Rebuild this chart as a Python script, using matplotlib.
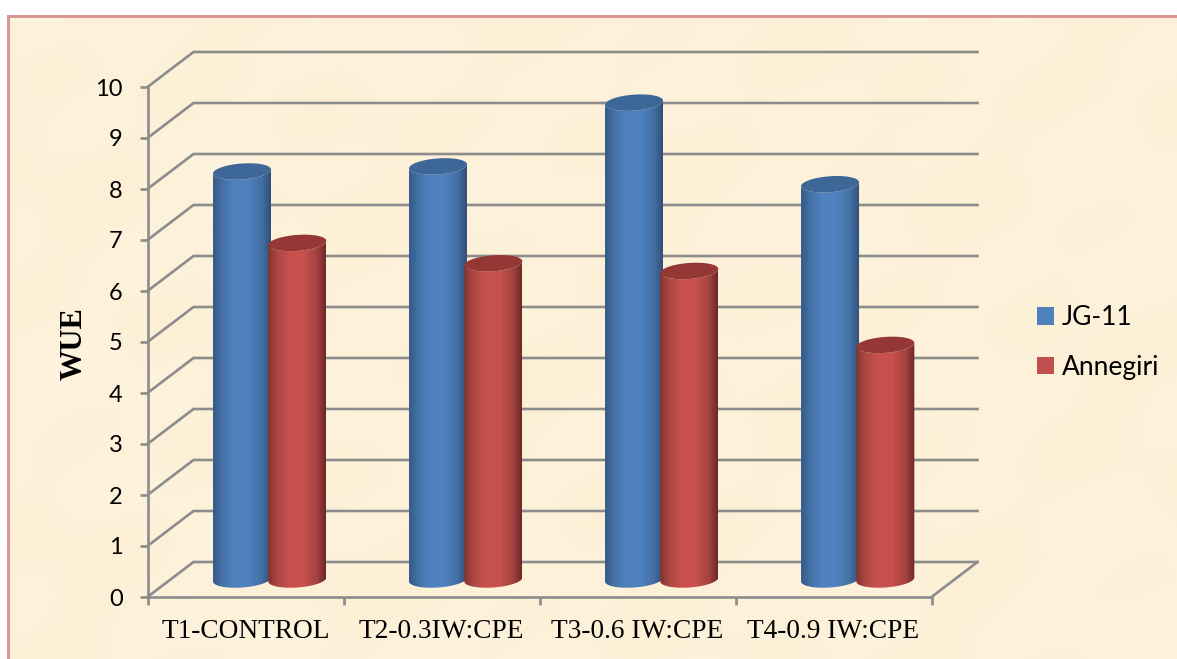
import numpy as np
import matplotlib
matplotlib.use('Agg')
import matplotlib.pyplot as plt
from matplotlib.colors import LinearSegmentedColormap
from matplotlib.patches import Patch, PathPatch, Rectangle
from matplotlib.path import Path

W, H = 1177, 659

categories = ['T1-CONTROL', 'T2-0.3IW:CPE', 'T3-0.6 IW:CPE', 'T4-0.9 IW:CPE']
jg11 = [8.0, 8.1, 9.35, 7.75]
annegiri = [6.6, 6.2, 6.05, 4.6]
y_ticks = [0, 1, 2, 3, 4, 5, 6, 7, 8, 9, 10]

GRID = '#8c8c8c'
LW = 1.9
# depth of the fake 3d box, in data units
DX = 46 / 196
DY = 35 / 51
BAR_W = 58 / 196
CAP_H = 8 / 51
CAP_TILT = 2 / 51

blue_grad = LinearSegmentedColormap.from_list('b', [
    (0, '#355b88'), (0.15, '#4470a6'), (0.35, '#4f81bd'), (0.6, '#5082c0'), (0.85, '#436fa3'), (1, '#2f5078')])
red_grad = LinearSegmentedColormap.from_list('r', [
    (0, '#843230'), (0.15, '#ab4744'), (0.35, '#c6504d'), (0.6, '#c9524f'), (0.85, '#a34341'), (1, '#6f2826')])


def background(fig):
    bg = fig.add_axes([0, 0, 1, 1], zorder=0)
    yy, xx = np.mgrid[0:H, 0:W]
    tex = (np.sin(xx / 47.) * np.cos(yy / 61.) + 0.7 * np.sin(xx / 23. + yy / 31.)
           + 0.6 * np.cos(xx / 131. - yy / 19.))
    img = np.zeros((H, W, 3))
    img[..., 0] = 253 + 0.5 * tex
    img[..., 1] = 241 + 0.8 * tex
    img[..., 2] = 217 + 1.6 * tex
    bg.imshow(np.clip(img, 0, 255).astype(np.uint8), extent=(0, W, H, 0), aspect='auto')
    bg.set_xlim(0, W)
    bg.set_ylim(H, 0)
    bg.axis('off')
    # white margin and pink frame on the top and left
    bg.add_patch(Rectangle((0, 0), W, 15, fc='white', ec='none'))
    bg.add_patch(Rectangle((0, 0), 7, H, fc='white', ec='none'))
    bg.add_patch(Rectangle((7, 15), W, 3, fc='#d99694', ec='none'))
    bg.add_patch(Rectangle((7, 15), 3, H, fc='#d99694', ec='none'))


def cap_xy(cx, cy):
    t = np.linspace(0, 2 * np.pi, 81)
    x = cx + BAR_W / 2 * np.cos(t)
    y = cy + CAP_H * np.sin(t) + CAP_TILT * np.cos(t)
    return x, y


def cylinder(ax, cx, value, cmap, cap_color):
    base = DY / 2
    top = base + value
    t = np.linspace(np.pi, 2 * np.pi, 41)
    x_low = cx + BAR_W / 2 * np.cos(t)
    y_low = base + CAP_H * np.sin(t) + CAP_TILT * np.cos(t)
    x_up = cx + BAR_W / 2 * np.cos(t[::-1])
    y_up = top + CAP_H * np.sin(t[::-1]) + CAP_TILT * np.cos(t[::-1])
    body = np.column_stack([np.r_[x_low, x_up], np.r_[y_low, y_up]])
    clip = PathPatch(Path(body), transform=ax.transData, fc='none', ec='none')
    ax.add_patch(clip)
    im = ax.imshow(np.linspace(0, 1, 100)[None, :], cmap=cmap, aspect='auto', zorder=3,
                   extent=(cx - BAR_W / 2, cx + BAR_W / 2, base - 1, top + 1))
    im.set_clip_path(clip)
    x, y = cap_xy(cx, top)
    ax.fill(x, y, color=cap_color, lw=0, zorder=3, clip_on=False)


def box(ax):
    # side wall and back wall gridlines
    for v in y_ticks:
        ax.plot([0, DX, 4 + DX], [v, v + DY, v + DY], color=GRID, lw=LW,
                clip_on=False, zorder=1, solid_joinstyle='miter')
    ax.plot([4, 4 + DX], [0, DY], color=GRID, lw=LW, clip_on=False, zorder=1)


def main():
    fig = plt.figure(figsize=(W / 100, H / 100), dpi=100)
    background(fig)

    ax = fig.add_axes([147.5 / W, (H - 597) / H, 784 / W, 510 / H], zorder=1)
    ax.patch.set_alpha(0)
    box(ax)
    for i in range(len(categories)):
        mid = i + 0.5 + DX / 2
        cylinder(ax, mid - 0.135, jg11[i], blue_grad, '#3d6797')
        cylinder(ax, mid + 0.147, annegiri[i], red_grad, '#953735')

    ax.set_xlim(0, 4)
    ax.set_ylim(0, 10)
    ax.set_yticks(y_ticks)
    ax.set_xticks(range(5))
    ax.set_xticklabels([])
    ax.set_xticks([i + 0.5 for i in range(4)], categories, minor=True)
    ax.tick_params(axis='x', which='minor', length=0, pad=16, labelsize=19.7,
                   labelfontfamily='Liberation Serif', labelcolor='black')
    ax.tick_params(axis='x', which='major', length=5.8, width=LW, color=GRID)
    ax.tick_params(axis='y', length=5.8, width=LW, color=GRID, pad=12, labelsize=17,
                   labelfontfamily='Lato')
    for lab in ax.get_yticklabels():
        lab.set_verticalalignment('center_baseline')
    for s in ['top', 'right']:
        ax.spines[s].set_visible(False)
    for s in ['left', 'bottom']:
        ax.spines[s].set_color(GRID)
        ax.spines[s].set_linewidth(LW)
    ax.set_ylabel('WUE', family='Liberation Serif', fontweight='bold', fontsize=22)
    ax.yaxis.set_label_coords((88.5 - 147.5) / 784, (597 - 344) / 510)

    handles = [Patch(fc='#4f81bd', label='JG-11'), Patch(fc='#c0504d', label='Annegiri')]
    fig.legend(handles=handles, loc='center left', bbox_to_anchor=(1037 / W, (H - 342.5) / H),
               frameon=False, prop={'family': 'Lato', 'size': 19}, handlelength=0.64,
               handleheight=0.64, handletextpad=0.3, labelspacing=0.93, borderpad=0, borderaxespad=0)

    fig.savefig('out.png', dpi=100)


if __name__ == "__main__":
    main()
